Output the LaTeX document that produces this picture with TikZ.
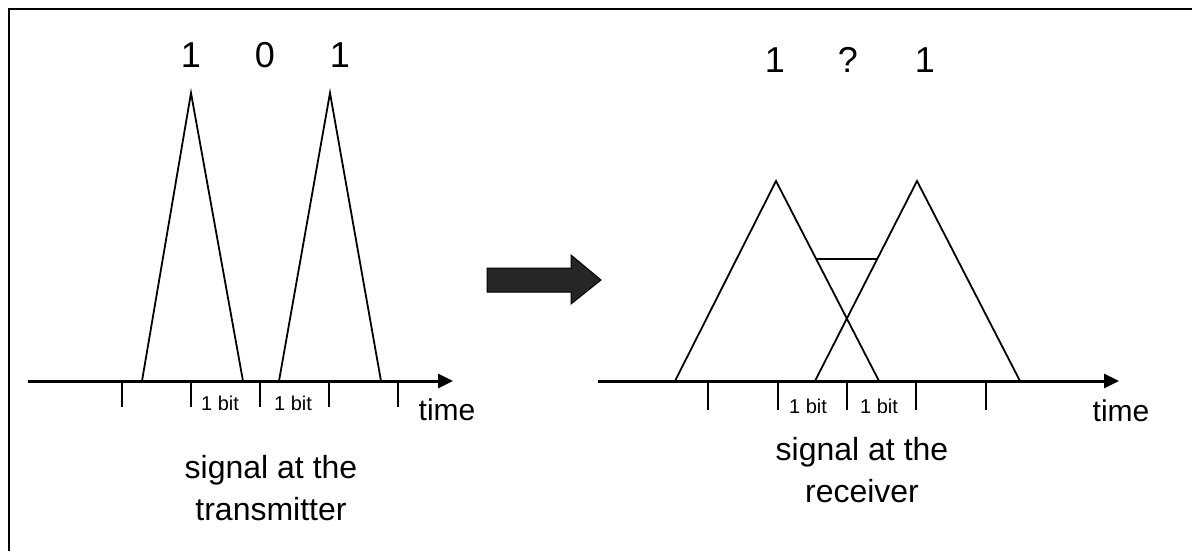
\documentclass[tikz,border=0pt]{standalone}
\usepackage{fontspec}
\setmainfont{Liberation Sans}
\usetikzlibrary{arrows.meta}
\begin{document}
\begin{tikzpicture}[x=1pt,y=-1pt,
  axisline/.style={line width=3pt,-{Triangle[length=15pt,width=14pt]}},
  tickline/.style={line width=1.8pt},
  pulse/.style={line width=1.8pt,line join=miter},
  frameline/.style={line width=2pt},
  bitlbl/.style={inner sep=0pt,anchor=base,font=\fontsize{36}{43}\selectfont},
  smalllbl/.style={inner sep=0pt,anchor=base,font=\fontsize{20}{24}\selectfont},
  timelbl/.style={inner sep=0pt,anchor=base,font=\fontsize{30}{36}\selectfont},
  caplbl/.style={inner sep=0pt,anchor=base,font=\fontsize{32}{38}\selectfont},
  fatarrow/.style={fill=black!85,draw=black,line width=1pt,line join=miter}]
\useasboundingbox (0,0) rectangle (1192,551);
% frame (top and left edges)
\coordinate (fA) at (8.5,551);
\coordinate (fB) at (8.5,9.5);
\coordinate (fC) at (1192,9.5);
\draw[frameline] (fA) -- (fB) -- (fC);

% ---------- left: transmitter ----------
\coordinate (la0) at (28,381);
\coordinate (la1) at (453,381);
\draw[axisline] (la0) -- (la1);
\foreach \x [count=\i] in {122,191,260,329,398}{
  \coordinate (lt\i a) at (\x,381);
  \coordinate (lt\i b) at (\x,407);
  \draw[tickline] (lt\i a) -- (lt\i b);
}
\coordinate (p1l) at (142,381);
\coordinate (p1t) at (191,93);
\coordinate (p1r) at (243,381);
\draw[pulse] (p1l) -- (p1t) -- (p1r);
\coordinate (p2l) at (279,381);
\coordinate (p2t) at (330,93);
\coordinate (p2r) at (381,381);
\draw[pulse] (p2l) -- (p2t) -- (p2r);
\node[bitlbl] (lb1) at (191,68) {1};
\node[bitlbl] (lb2) at (265,68) {0};
\node[bitlbl] (lb3) at (340,68) {1};
\node[smalllbl] (lbit1) at (220,410) {1 bit};
\node[smalllbl] (lbit2) at (293,410) {1 bit};
\node[timelbl] (ltime) at (447,420) {time};
\node[caplbl] (lcap1) at (271,478) {signal at the};
\node[caplbl] (lcap2) at (271,520) {transmitter};

% ---------- arrow ----------
\coordinate (fa1) at (487,268);
\coordinate (fa2) at (571,268);
\coordinate (fa3) at (571,255);
\coordinate (fa4) at (601,280);
\coordinate (fa5) at (571,304);
\coordinate (fa6) at (571,292);
\coordinate (fa7) at (487,292);
\draw[fatarrow] (fa1) -- (fa2) -- (fa3) -- (fa4) -- (fa5) -- (fa6) -- (fa7) -- cycle;

% ---------- right: receiver ----------
\coordinate (ra0) at (598,381);
\coordinate (ra1) at (1119,381);
\draw[axisline] (ra0) -- (ra1);
\foreach \x [count=\i] in {708,778,847,916,986}{
  \coordinate (rt\i a) at (\x,381);
  \coordinate (rt\i b) at (\x,410);
  \draw[tickline] (rt\i a) -- (rt\i b);
}
\coordinate (q1l) at (675,381);
\coordinate (q1t) at (776,181);
\coordinate (q1r) at (879,381);
\draw[pulse] (q1l) -- (q1t) -- (q1r);
\coordinate (q2l) at (815,381);
\coordinate (q2t) at (917,181);
\coordinate (q2r) at (1020,381);
\draw[pulse] (q2l) -- (q2t) -- (q2r);
\coordinate (hl) at (816,259);
\coordinate (hr) at (877,259);
\draw[pulse] (hl) -- (hr);
\node[bitlbl] (rb1) at (775,73) {1};
\node[bitlbl] (rb2) at (848,73) {?};
\node[bitlbl] (rb3) at (925,73) {1};
\node[smalllbl] (rbit1) at (808,413) {1 bit};
\node[smalllbl] (rbit2) at (879,413) {1 bit};
\node[timelbl] (rtime) at (1121,421) {time};
\node[caplbl] (rcap1) at (862,460) {signal at the};
\node[caplbl] (rcap2) at (862,502) {receiver};
\end{tikzpicture}
\end{document}
